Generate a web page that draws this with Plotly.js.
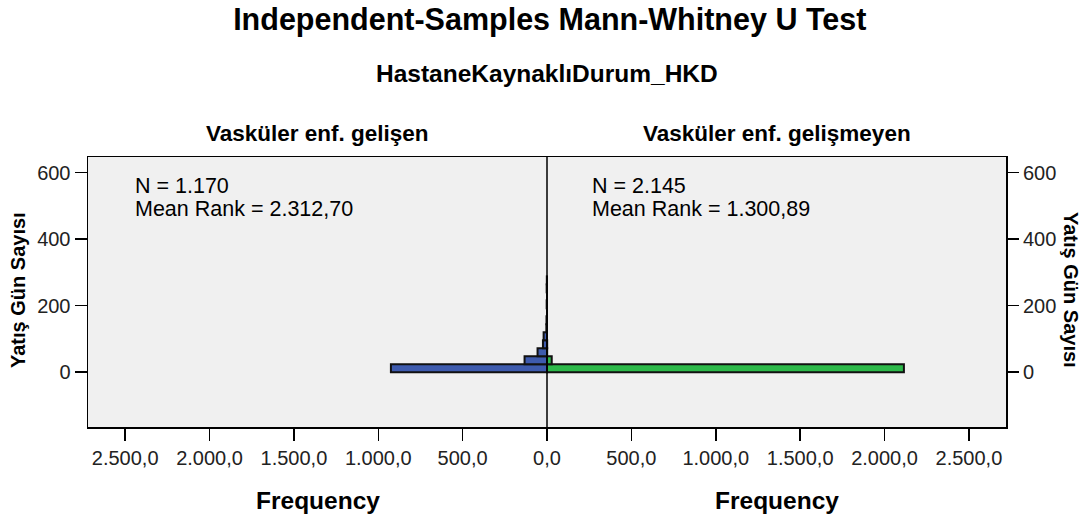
<!DOCTYPE html>
<html>
<head>
<meta charset="utf-8">
<script src="https://cdn.plot.ly/plotly-3.0.1.min.js"></script>
<style>
html,body{margin:0;padding:0;background:#fff;}
#chart{width:1086px;height:522px;}
</style>
</head>
<body>
<div id="chart"></div>
<script>
// Bin centers of "Yatış Gün Sayısı" (bin width 24 days)
const binCenters = [12, 36, 60, 84, 108, 132, 156, 180, 204, 228, 252, 276];
const binWidth = 24;
// Frequencies per bin
const gelisenCounts   = [925, 133, 56, 24, 20, 4, 3, 0, 2, 0, 2, 1];   // N = 1.170
const gelismeyenCounts = [2115, 28, 1, 1, 0, 0, 0, 0, 0, 0, 0, 0];    // N = 2.145
const groupNames = ["Vasküler enf. gelişen", "Vasküler enf. gelişmeyen"];
const groupN = ["1.170", "2.145"];
const meanRanks = ["2.312,70", "1.300,89"];
const freqTicks = [-2500, -2000, -1500, -1000, -500, 0, 500, 1000, 1500, 2000, 2500];
const freqTickText = ["2.500,0","2.000,0","1.500,0","1.000,0","500,0","0,0","500,0","1.000,0","1.500,0","2.000,0","2.500,0"];
const yTicks = [0, 200, 400, 600];

const FONT = "Liberation Sans, Arial, sans-serif";

const traces = [
  {
    type: 'bar', orientation: 'h',
    y: binCenters, x: gelisenCounts.map(v => -v),
    width: binCenters.map(() => binWidth),
    marker: {color: '#3E5BAE', line: {color: '#111', width: 2}},
    hoverinfo: 'skip', showlegend: false
  },
  {
    type: 'bar', orientation: 'h',
    y: binCenters, x: gelismeyenCounts,
    width: binCenters.map(() => binWidth),
    marker: {color: '#2DB94A', line: {color: '#111', width: 2}},
    hoverinfo: 'skip', showlegend: false
  },
  {
    type: 'scatter', mode: 'markers', x: [0], y: [0], yaxis: 'y2',
    marker: {opacity: 0}, hoverinfo: 'skip', showlegend: false
  }
];

const yRange = [-165, 647];
const layout = {
  width: 1086, height: 522,
  margin: {l: 88, r: 80, t: 157, b: 95},
  paper_bgcolor: '#ffffff',
  plot_bgcolor: '#F0F0F0',
  barmode: 'overlay',
  bargap: 0,
  font: {family: FONT, color: '#000', size: 20},
  title: {
    text: '<b>Independent-Samples Mann-Whitney U Test</b>',
    font: {family: FONT, size: 30.5, color: '#000'},
    x: 0.503, xanchor: 'center', xref: 'paper',
    y: 1 - 19/522, yanchor: 'middle', yref: 'container'
  },
  xaxis: {
    range: [-2720, 2720],
    tickvals: freqTicks, ticktext: freqTickText,
    ticks: 'outside', ticklen: 12, tickwidth: 1.5, tickcolor: '#000',
    showline: true, linecolor: '#000', linewidth: 1.5, mirror: true,
    showgrid: false, zeroline: false,
    tickfont: {family: FONT, size: 20, color: '#222'},
    fixedrange: true
  },
  yaxis: {
    range: yRange, tickvals: yTicks,
    ticks: 'outside', ticklen: 12, tickwidth: 1.5, tickcolor: '#000',
    showline: true, linecolor: '#000', linewidth: 1.5, mirror: true,
    showgrid: false, zeroline: false,
    tickfont: {family: FONT, size: 20, color: '#222'},
    fixedrange: true
  },
  yaxis2: {
    range: yRange, tickvals: yTicks, overlaying: 'y', side: 'right',
    ticks: 'outside', ticklen: 12, tickwidth: 1.5, tickcolor: '#000',
    showline: false, showgrid: false, zeroline: false,
    tickfont: {family: FONT, size: 20, color: '#222'},
    fixedrange: true
  },
  shapes: [
    {type: 'line', xref: 'x', yref: 'paper', x0: 0, x1: 0, y0: 0, y1: 1,
     line: {color: '#000', width: 1.5}}
  ],
  annotations: [
    {text: '<b>HastaneKaynaklıDurum_HKD</b>', xref: 'paper', yref: 'paper',
     x: 0.5, y: (427-73)/270, xanchor: 'center', yanchor: 'middle', showarrow: false,
     font: {family: FONT, size: 24.5, color: '#000'}},
    {text: '<b>' + groupNames[0] + '</b>', xref: 'paper', yref: 'paper',
     x: 0.25, y: (427-133)/270, xanchor: 'center', yanchor: 'middle', showarrow: false,
     font: {family: FONT, size: 22.5, color: '#000'}},
    {text: '<b>' + groupNames[1] + '</b>', xref: 'paper', yref: 'paper',
     x: 0.75, y: (427-133)/270, xanchor: 'center', yanchor: 'middle', showarrow: false,
     font: {family: FONT, size: 22.5, color: '#000'}},
    {text: 'N = ' + groupN[0], xref: 'paper', yref: 'paper',
     x: (133-88)/918, y: (427-186)/270, xanchor: 'left', yanchor: 'middle', showarrow: false,
     font: {family: FONT, size: 21.5, color: '#000'}},
    {text: 'Mean Rank = ' + meanRanks[0], xref: 'paper', yref: 'paper',
     x: (133-88)/918, y: (427-209)/270, xanchor: 'left', yanchor: 'middle', showarrow: false,
     font: {family: FONT, size: 21.5, color: '#000'}},
    {text: 'N = ' + groupN[1], xref: 'paper', yref: 'paper',
     x: (590-88)/918, y: (427-186)/270, xanchor: 'left', yanchor: 'middle', showarrow: false,
     font: {family: FONT, size: 21.5, color: '#000'}},
    {text: 'Mean Rank = ' + meanRanks[1], xref: 'paper', yref: 'paper',
     x: (590-88)/918, y: (427-209)/270, xanchor: 'left', yanchor: 'middle', showarrow: false,
     font: {family: FONT, size: 21.5, color: '#000'}},
    {text: '<b>Frequency</b>', xref: 'paper', yref: 'paper',
     x: 0.25, y: (427-500)/270, xanchor: 'center', yanchor: 'middle', showarrow: false,
     font: {family: FONT, size: 24.5, color: '#000'}},
    {text: '<b>Frequency</b>', xref: 'paper', yref: 'paper',
     x: 0.75, y: (427-500)/270, xanchor: 'center', yanchor: 'middle', showarrow: false,
     font: {family: FONT, size: 24.5, color: '#000'}},
    {text: '<b>Yatış Gün Sayısı</b>', xref: 'paper', yref: 'paper',
     x: (18-88)/918, y: (427-290)/270, xanchor: 'center', yanchor: 'middle', showarrow: false,
     textangle: -90, font: {family: FONT, size: 20, color: '#000'}},
    {text: '<b>Yatış Gün Sayısı</b>', xref: 'paper', yref: 'paper',
     x: (1071-88)/918, y: (427-290)/270, xanchor: 'center', yanchor: 'middle', showarrow: false,
     textangle: 90, font: {family: FONT, size: 20, color: '#000'}}
  ]
};

Plotly.newPlot('chart', traces, layout, {displayModeBar: false, staticPlot: true});
</script>
</body>
</html>
